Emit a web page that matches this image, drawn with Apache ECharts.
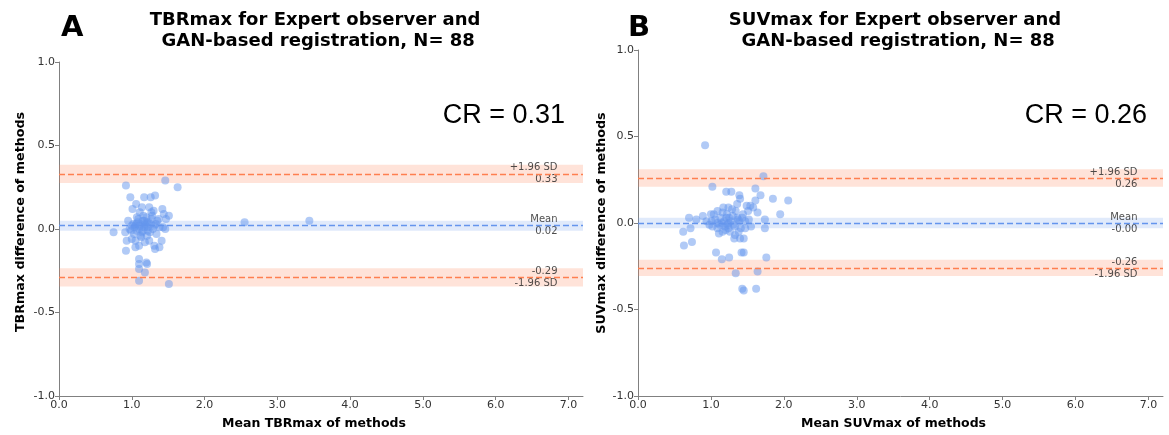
<!DOCTYPE html>
<html>
<head>
<meta charset="utf-8">
<script src="https://cdn.jsdelivr.net/npm/echarts@6/dist/echarts.min.js"></script>
<style>
  html, body { margin: 0; padding: 0; background: #fff; }
  #chart { width: 1169px; height: 435px; }
</style>
</head>
<body>
<div id="chart"></div>
<script>
// tick values
const xTicks = [0, 1, 2, 3, 4, 5, 6, 7];
const yTicks = [-1, -0.5, 0, 0.5, 1];

// panel A: [mean of methods, difference]
const tbrPoints = [
  [0.92, 0.26], [1.46, 0.29], [1.63, 0.25], [0.98, 0.19], [1.17, 0.19], [1.26, 0.19],
  [1.32, 0.20], [1.06, 0.15], [1.01, 0.12], [1.14, 0.13], [1.24, 0.13], [1.11, 0.10],
  [1.27, 0.10], [1.30, 0.11], [1.42, 0.12], [1.44, 0.09], [1.51, 0.08], [1.37, 0.06],
  [1.35, 0.05], [1.47, 0.06], [0.95, 0.05], [1.07, 0.07], [1.17, 0.05], [1.21, 0.04],
  [2.55, 0.04], [0.75, -0.02], [0.91, -0.02], [0.99, -0.01], [1.04, 0.01], [1.11, 0.02],
  [1.18, 0.03], [1.22, 0.01], [1.31, 0.02], [1.38, 0.01], [1.46, 0.00], [1.43, 0.01],
  [0.93, -0.07], [1.00, -0.06], [1.05, -0.07], [1.12, -0.04], [1.21, -0.04], [1.41, -0.07],
  [1.24, -0.07], [1.10, -0.10], [1.31, -0.10], [1.32, -0.12], [1.38, -0.11], [0.92, -0.13],
  [1.05, -0.11], [1.10, -0.18], [1.20, -0.20], [1.21, -0.21], [1.10, -0.21], [1.10, -0.24],
  [1.18, -0.26], [1.10, -0.31], [1.51, -0.33], [1.91, 1.01], [3.44, 0.05],
  [1.02, 0.03], [1.05, 0.02], [1.08, 0.04], [1.12, 0.03], [1.15, 0.05], [1.19, 0.02],
  [1.23, 0.04], [1.07, -0.01], [1.10, 0.00], [1.14, -0.02], [1.17, 0.01], [1.25, -0.02],
  [1.29, 0.00], [1.03, -0.03], [0.97, 0.00], [1.20, 0.07], [1.27, 0.06], [1.33, 0.03],
  [1.09, 0.06], [1.13, -0.05], [1.16, 0.08], [1.06, 0.03], [1.22, -0.01], [1.34, -0.03],
  [1.00, 0.02], [1.18, -0.08], [1.28, 0.08], [1.15, -0.01], [1.26, 0.03]
];

// panel B: [mean of methods, difference]
const suvPoints = [
  [0.92, 0.45], [1.72, 0.27], [1.02, 0.21], [1.21, 0.18], [1.28, 0.18], [1.39, 0.16],
  [1.61, 0.20], [1.40, 0.14], [1.68, 0.16], [1.85, 0.14], [2.06, 0.13], [1.36, 0.11],
  [1.61, 0.13], [1.54, 0.10], [1.58, 0.09], [1.64, 0.06], [1.24, 0.09], [1.34, 0.07],
  [1.51, 0.07], [1.44, 0.05], [1.95, 0.05], [0.89, 0.04], [0.70, 0.03], [0.80, 0.02],
  [0.94, 0.01], [1.00, 0.05], [1.04, 0.05], [1.09, 0.07], [1.16, 0.06], [1.21, 0.03],
  [1.25, 0.03], [1.37, 0.02], [1.52, 0.02], [1.74, 0.02], [1.01, 0.01], [1.09, 0.00],
  [1.15, 0.00], [1.24, 0.00], [1.31, -0.01], [1.39, 0.01], [1.02, -0.02], [1.09, -0.03],
  [1.19, -0.02], [1.24, -0.03], [1.41, -0.03], [1.47, -0.03], [1.74, -0.03], [0.72, -0.03],
  [0.62, -0.05], [1.11, -0.06], [1.16, -0.05], [1.33, -0.07], [1.40, -0.09], [1.45, -0.09],
  [0.63, -0.13], [0.74, -0.11], [1.07, -0.17], [1.15, -0.21], [1.25, -0.20], [1.42, -0.17],
  [1.45, -0.17], [1.76, -0.20], [1.34, -0.29], [1.64, -0.28], [1.43, -0.38], [1.45, -0.39],
  [1.62, -0.38],
  [1.13, 0.03], [1.18, 0.01], [1.22, 0.05], [1.27, 0.01], [1.30, 0.04], [1.33, -0.02],
  [1.36, 0.03], [1.20, -0.04], [1.26, -0.05], [1.12, -0.01], [1.06, 0.02], [1.38, -0.05],
  [1.43, 0.03], [1.47, 0.01], [1.29, 0.08], [1.17, 0.09], [1.49, 0.10], [1.55, -0.02],
  [1.32, -0.09], [1.23, -0.01], [0.98, -0.01]
];

// limits of agreement: upper, mean, lower
const tbrLimits = [0.33, 0.02, -0.29];
const tbrBands = [[0.275, 0.385], [-0.01, 0.05], [-0.345, -0.235]];
const tbrAbove = ['+1.96 SD', 'Mean', '-0.29'];
const tbrBelow = ['0.33', '0.02', '-1.96 SD'];

const suvLimits = [0.26, 0.00, -0.26];
const suvBands = [[0.21, 0.31], [-0.03, 0.03], [-0.307, -0.213]];
const suvAbove = ['+1.96 SD', 'Mean', '-0.26'];
const suvBelow = ['0.26', '-0.00', '-1.96 SD'];

const labelX = 6.85;

const FONT = 'DejaVu Sans';
const BLUE = '#6495ED';
const CORAL = '#FF7F50';
const lineColors = [CORAL, BLUE, CORAL];
const bandColors = ['rgba(255,127,80,0.22)', 'rgba(100,149,237,0.2)', 'rgba(255,127,80,0.22)'];

function panelSeries(idx, points, limits, bands, above, below) {
  const labelData = [];
  limits.forEach((v, i) => {
    labelData.push({
      value: [labelX, v],
      label: {formatter: above[i], position: [0, -1], align: 'right', verticalAlign: 'bottom'},
    });
    labelData.push({
      value: [labelX, v],
      label: {formatter: below[i], position: [0, 1], align: 'right', verticalAlign: 'top'},
    });
  });

  return [
    {
      type: 'scatter',
      xAxisIndex: idx,
      yAxisIndex: idx,
      data: points,
      symbolSize: 8,
      itemStyle: {color: BLUE, opacity: 0.5},
      markArea: {
        silent: true,
        data: bands.map((b, i) => [
          {yAxis: b[0], itemStyle: {color: bandColors[i]}},
          {yAxis: b[1]},
        ]),
      },
      markLine: {
        silent: true,
        symbol: 'none',
        label: {show: false},
        data: limits.map((v, i) => ({
          yAxis: v,
          lineStyle: {color: lineColors[i], type: [6, 3], width: 1.4},
        })),
      },
      z: 3,
    },
    {
      type: 'scatter',
      xAxisIndex: idx,
      yAxisIndex: idx,
      symbolSize: 0,
      silent: true,
      data: labelData,
      label: {show: true, fontFamily: FONT, fontSize: 10, color: '#222'},
      z: 4,
    },
  ];
}

function xAxisOf(idx, name) {
  return {
    type: 'value',
    gridIndex: idx,
    min: 0,
    max: 7.2,
    name: name,
    nameLocation: 'middle',
    nameGap: 21,
    nameTextStyle: {fontFamily: FONT, fontSize: 12.5, fontWeight: 'bold', color: '#000', padding: [0, 14, 0, 0]},
    axisLine: {show: true, onZero: false, lineStyle: {color: '#808080'}},
    axisTick: {show: true, length: 4, customValues: xTicks, lineStyle: {color: '#808080'}},
    axisLabel: {
      customValues: xTicks, margin: 4,
      fontFamily: FONT, fontSize: 11, color: '#333',
      formatter: (v) => v.toFixed(1),
    },
    splitLine: {show: false},
  };
}

function yAxisOf(idx, name, gap, pad) {
  return {
    type: 'value',
    gridIndex: idx,
    min: -1,
    max: 1,
    interval: 0.5,
    name: name,
    nameLocation: 'middle',
    nameGap: gap,
    nameTextStyle: {fontFamily: FONT, fontSize: 12.7, fontWeight: 'bold', color: '#000', padding: pad},
    axisLine: {show: true, onZero: false, lineStyle: {color: '#808080'}},
    axisTick: {show: true, length: 4, customValues: yTicks, lineStyle: {color: '#808080'}},
    axisLabel: {
      customValues: yTicks, margin: 4, fontFamily: FONT, fontSize: 11, color: '#333',
      formatter: (v) => v.toFixed(1),
    },
    splitLine: {show: false},
  };
}

const chart = echarts.init(document.getElementById('chart'));

const titleStyle = {fontFamily: FONT, fontSize: 18, fontWeight: 'bold', color: '#000', lineHeight: 21};

chart.setOption({
  animation: false,
  backgroundColor: '#fff',
  grid: [
    {left: 59, top: 62, width: 524, height: 334, outerBoundsMode: 'none'},
    {left: 638, top: 50, width: 525, height: 346, outerBoundsMode: 'none'},
  ],
  xAxis: [
    xAxisOf(0, 'Mean TBRmax of methods'),
    xAxisOf(1, 'Mean SUVmax of methods'),
  ],
  yAxis: [
    yAxisOf(0, 'TBRmax difference of methods', 32, [0, 0, 0, 14]),
    yAxisOf(1, 'SUVmax difference of methods', 29, 0),
  ],
  title: [
    {
      text: 'TBRmax for Expert observer and\n GAN-based registration, N= 88',
      left: 310, top: 5, textAlign: 'center', textStyle: titleStyle,
    },
    {
      text: 'SUVmax for Expert observer and\n GAN-based registration, N= 88',
      left: 890, top: 5, textAlign: 'center', textStyle: titleStyle,
    },
  ],
  graphic: [
    {type: 'text', left: 61, top: 14, style: {text: 'A', fontFamily: FONT, fontSize: 29, fontWeight: 'bold', fill: '#000'}},
    {type: 'text', left: 628, top: 14, style: {text: 'B', fontFamily: FONT, fontSize: 29, fontWeight: 'bold', fill: '#000'}},
    {type: 'text', right: 1169 - 565, top: 102, style: {text: 'CR = 0.31', fontFamily: 'Liberation Sans', fontSize: 27, fill: '#000'}},
    {type: 'text', right: 1169 - 1147, top: 102, style: {text: 'CR = 0.26', fontFamily: 'Liberation Sans', fontSize: 27, fill: '#000'}},
  ],
  series: [
    ...panelSeries(0, tbrPoints, tbrLimits, tbrBands, tbrAbove, tbrBelow),
    ...panelSeries(1, suvPoints, suvLimits, suvBands, suvAbove, suvBelow),
  ],
});
</script>
</body>
</html>
